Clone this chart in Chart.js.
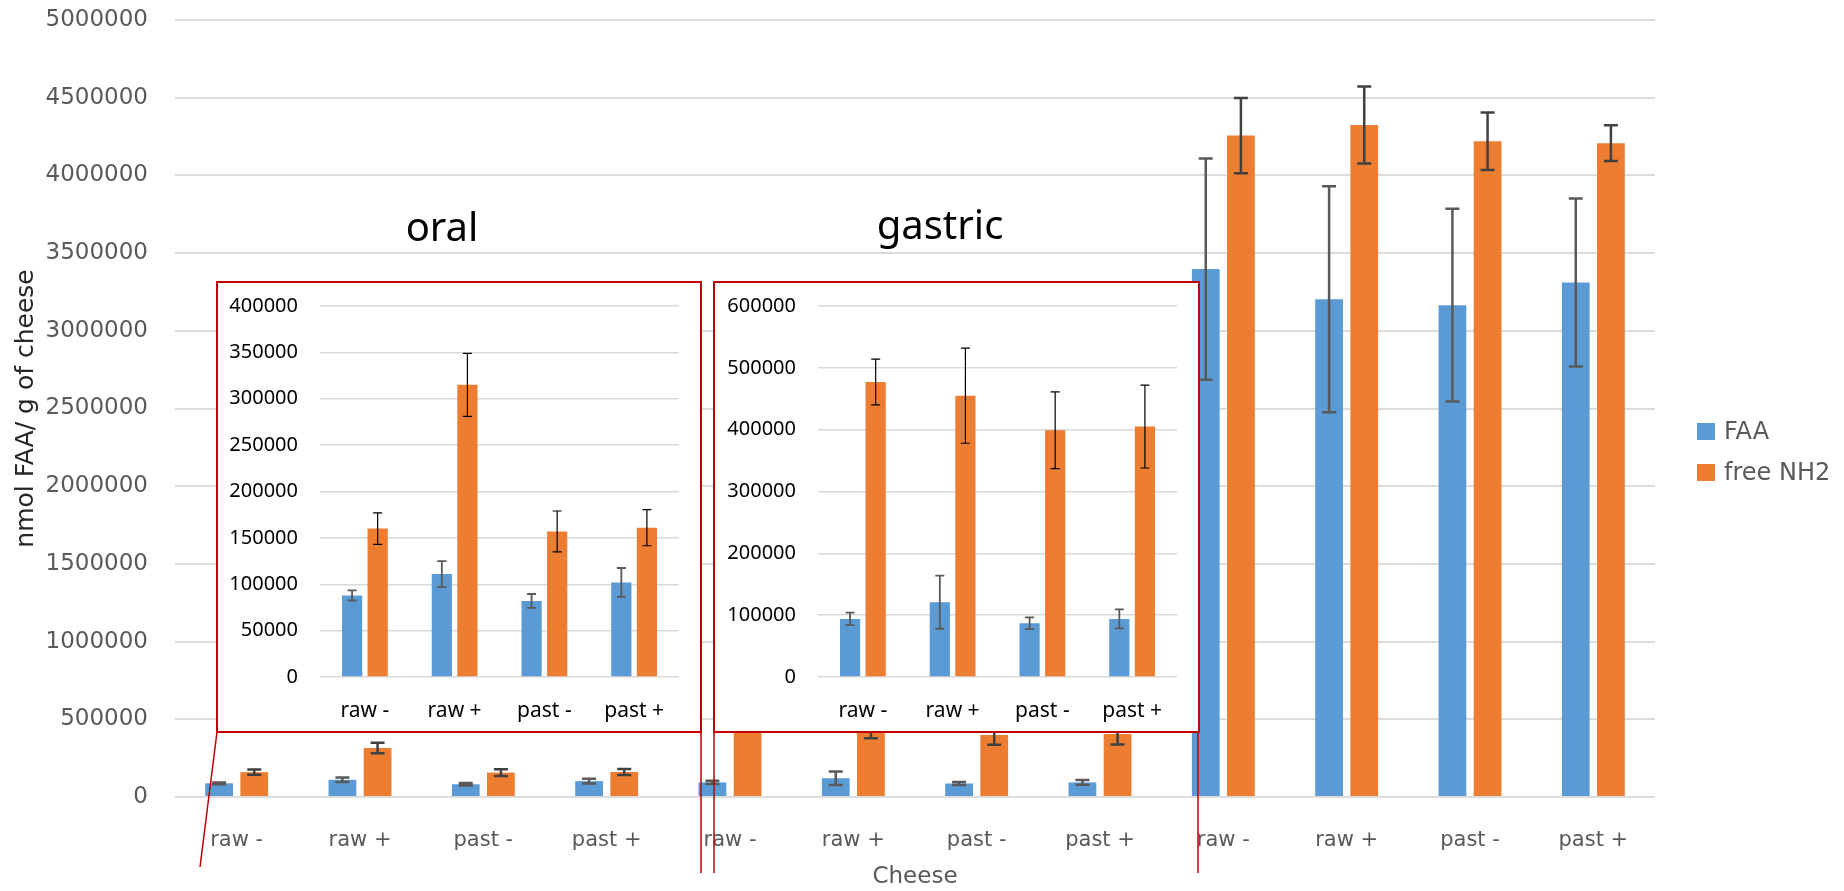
<!DOCTYPE html>
<html>
<head>
<meta charset="utf-8">
<title>FAA and free NH2 in cheese digests</title>
<script src="https://cdn.jsdelivr.net/npm/chart.js@4.4.0/dist/chart.umd.min.js"></script>
<style>
  html, body { margin: 0; padding: 0; background: #fff; }
  #page { position: relative; width: 1844px; height: 891px; overflow: hidden; }
  #main-wrap { position: absolute; left: 0; top: 0; width: 1844px; height: 891px; }
  .inset {
    position: absolute; top: 281px; height: 452px;
    box-sizing: border-box; border: 2px solid #c00000; background: #fff;
  }
  .inset .cw { position: absolute; left: 0; top: 0; right: 0; bottom: 0; }
  #oral-box { left: 216px; width: 486px; }
  #gastric-box { left: 713px; width: 487px; }
  .phase {
    position: absolute; font-family: "Noto Sans", sans-serif; font-size: 40px;
    line-height: 40px; color: #000; transform: translateX(-50%); white-space: nowrap;
  }
  #legend { position: absolute; left: 1697px; top: 0; font-family: "DejaVu Sans", sans-serif; font-size: 24px; color: #595959; }
  #legend .item { position: absolute; left: 0; white-space: nowrap; display: flex; align-items: center; height: 24px; }
  #legend .sw { width: 18px; height: 17px; margin-right: 9px; }
</style>
</head>
<body>
<div id="page">
  <div id="main-wrap"><canvas id="mainChart"></canvas></div>
  <div class="phase" style="left:442px; top:206px;">oral</div>
  <div class="phase" style="left:940px; top:204px;">gastric</div>
  <div id="oral-box" class="inset"><div class="cw"><canvas id="oralChart"></canvas></div></div>
  <div id="gastric-box" class="inset"><div class="cw"><canvas id="gastricChart"></canvas></div></div>
  <div id="legend"></div>
</div>
<script>
// categories (same four cheeses in each digestion phase)
const categories = ['raw -', 'raw +', 'past -', 'past +'];
const seriesNames = ['FAA', 'free NH2'];
const seriesColors = ['#5B9BD5', '#ED7D31'];

// oral phase (nmol / g of cheese)
const oralFAA = [88000, 111000, 82000, 102000];
const oralFAAErr = [5500, 14000, 7500, 15500];
const oralNH2 = [160000, 315000, 157000, 161000];
const oralNH2Err = [17000, 34000, 22000, 19500];

// gastric phase
const gastricFAA = [94000, 121000, 87000, 94000];
const gastricFAAErr = [10000, 43000, 9500, 15500];
const gastricNH2 = [477000, 455000, 399000, 405000];
const gastricNH2Err = [37000, 77000, 62000, 67000];

// intestinal phase
const intestFAA = [3397000, 3203000, 3165000, 3311000];
const intestFAAErr = [712000, 727000, 620000, 540000];
const intestNH2 = [4256000, 4324000, 4220000, 4207000];
const intestNH2Err = [242000, 248000, 185000, 115000];

// axis ticks
const mainMax = 5000000, mainStep = 500000;
const oralMax = 400000, oralStep = 50000;
const gastricMax = 600000, gastricStep = 100000;

Chart.defaults.animation = false;

// draws +/- error bars from dataset.errors
const errorBars = {
  id: 'errorBars',
  afterDatasetsDraw(chart, args, opts) {
    const ctx = chart.ctx;
    const yScale = chart.scales.y;
    chart.data.datasets.forEach((ds, di) => {
      const meta = chart.getDatasetMeta(di);
      if (!ds.errors || meta.hidden) return;
      const st = opts.styles[di];
      ctx.save();
      ctx.strokeStyle = st.color;
      ctx.lineWidth = st.width;
      meta.data.forEach((bar, i) => {
        const v = ds.data[i], e = ds.errors[i];
        const top = yScale.getPixelForValue(v + e);
        const bot = yScale.getPixelForValue(v - e);
        const half = st.cap / 2;
        ctx.beginPath();
        ctx.moveTo(bar.x, top); ctx.lineTo(bar.x, bot);
        ctx.moveTo(bar.x - half, top); ctx.lineTo(bar.x + half, top);
        ctx.moveTo(bar.x - half, bot); ctx.lineTo(bar.x + half, bot);
        ctx.stroke();
      });
      ctx.restore();
    });
  }
};

// red lines tying the zoom boxes to the main axis
const zoomLines = {
  id: 'zoomLines',
  afterDraw(chart, args, opts) {
    const ctx = chart.ctx;
    const o = document.getElementById('oral-box');
    const g = document.getElementById('gastric-box');
    const bottom = o.offsetTop + o.offsetHeight - 1;
    ctx.save();
    ctx.strokeStyle = '#c00000';
    ctx.lineWidth = 1.5;
    ctx.beginPath();
    ctx.moveTo(o.offsetLeft + 1, bottom); ctx.lineTo(o.offsetLeft + 1 - opts.slant, opts.endY - 6);
    ctx.moveTo(o.offsetLeft + o.offsetWidth - 1, bottom); ctx.lineTo(o.offsetLeft + o.offsetWidth - 1, opts.endY);
    ctx.moveTo(g.offsetLeft + 1, bottom); ctx.lineTo(g.offsetLeft + 1, opts.endY);
    ctx.moveTo(g.offsetLeft + g.offsetWidth - 2, bottom); ctx.lineTo(g.offsetLeft + g.offsetWidth - 2, opts.endY);
    ctx.stroke();
    ctx.restore();
  }
};

function barDatasets(faa, faaErr, nh2, nh2Err) {
  return [
    { label: seriesNames[0], data: faa, errors: faaErr, backgroundColor: seriesColors[0], borderWidth: 0 },
    { label: seriesNames[1], data: nh2, errors: nh2Err, backgroundColor: seriesColors[1], borderWidth: 0 }
  ];
}

// fixed axis width, and no extra top/bottom padding from the tick labels
function fixWidth(w) {
  return s => { s.width = w; s.paddingTop = 0; s.paddingBottom = 0; };
}

const mainLabels = [...categories, ...categories, ...categories];
const mainFont = "'DejaVu Sans', sans-serif";

new Chart(document.getElementById('mainChart'), {
  type: 'bar',
  data: {
    labels: mainLabels,
    datasets: barDatasets(
      [...oralFAA, ...gastricFAA, ...intestFAA],
      [...oralFAAErr, ...gastricFAAErr, ...intestFAAErr],
      [...oralNH2, ...gastricNH2, ...intestNH2],
      [...oralNH2Err, ...gastricNH2Err, ...intestNH2Err]
    )
  },
  options: {
    responsive: true,
    maintainAspectRatio: false,
    categoryPercentage: 0.57,
    barPercentage: 0.79,
    layout: { padding: { left: 0, top: 20, right: 189, bottom: 0 } },
    scales: {
      x: {
        grid: { display: false },
        border: { display: false },
        ticks: { color: '#595959', font: { family: mainFont, size: 21 }, padding: 23, maxRotation: 0, autoSkip: false },
        title: { display: true, text: 'Cheese', color: '#595959', font: { family: mainFont, size: 23 }, padding: { top: 0, bottom: 0 } },
        afterFit: s => { s.height = 94; }
      },
      y: {
        min: 0, max: mainMax,
        grid: { color: '#dcdcdc', lineWidth: 2, drawTicks: false },
        border: { display: false },
        ticks: { stepSize: mainStep, color: '#595959', font: { family: mainFont, size: 23 }, padding: 27, callback: v => String(v) },
        title: { display: true, text: 'nmol FAA/ g of cheese', color: '#262626', font: { family: mainFont, size: 25 }, padding: { top: 11, bottom: 0 } },
        afterFit: fixWidth(175)
      }
    },
    plugins: {
      legend: { display: false },
      tooltip: { enabled: false },
      errorBars: { styles: [
        { color: '#595959', width: 2.5, cap: 14 },
        { color: '#404040', width: 2.5, cap: 14 }
      ] },
      zoomLines: { slant: 17, endY: 873 }
    }
  },
  plugins: [errorBars, zoomLines]
});

function insetChart(id, faa, faaErr, nh2, nh2Err, max, step, yWidth) {
  const font = "'Noto Sans', sans-serif";
  return new Chart(document.getElementById(id), {
    type: 'bar',
    data: { labels: categories, datasets: barDatasets(faa, faaErr, nh2, nh2Err) },
    options: {
      responsive: true,
      maintainAspectRatio: false,
      categoryPercentage: 0.57,
      barPercentage: 0.79,
      layout: { padding: { left: 0, top: 23, right: 21, bottom: 0 } },
      scales: {
        x: {
          grid: { display: false },
          border: { display: false },
          ticks: { color: '#000', font: { family: font, size: 21 }, padding: 13, maxRotation: 0, autoSkip: false },
          afterFit: s => { s.height = 54; }
        },
        y: {
          min: 0, max: max,
          grid: { color: '#d9d9d9', lineWidth: 1.5, drawTicks: false },
          border: { display: false },
          ticks: { stepSize: step, color: '#000', font: { family: font, size: 20 }, padding: 22, callback: v => String(v) },
          afterFit: fixWidth(yWidth)
        }
      },
      plugins: {
        legend: { display: false },
        tooltip: { enabled: false },
        errorBars: { styles: [
          { color: '#595959', width: 1.8, cap: 9 },
          { color: '#000000', width: 1.2, cap: 9 }
        ] }
      }
    },
    plugins: [errorBars]
  });
}

insetChart('oralChart', oralFAA, oralFAAErr, oralNH2, oralNH2Err, oralMax, oralStep, 102);
insetChart('gastricChart', gastricFAA, gastricFAAErr, gastricNH2, gastricNH2Err, gastricMax, gastricStep, 103);

// legend
const legendTops = [431, 472];
const legend = document.getElementById('legend');
seriesNames.forEach((name, i) => {
  const item = document.createElement('div');
  item.className = 'item';
  item.style.top = (legendTops[i] - 12) + 'px';
  item.innerHTML = '<span class="sw" style="background:' + seriesColors[i] + '"></span><span>' + name + '</span>';
  legend.appendChild(item);
});
</script>
</body>
</html>
